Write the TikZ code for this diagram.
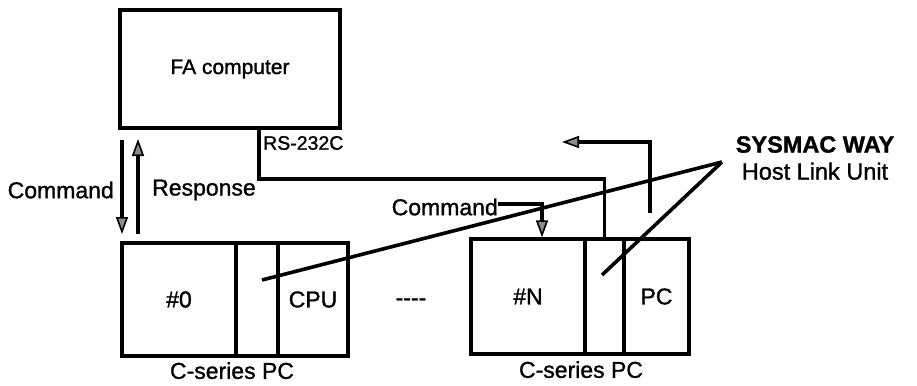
\documentclass[tikz,border=0pt]{standalone}
\usepackage{fontspec}
\setmainfont{Liberation Sans}[FakeBold=1.2]
\usetikzlibrary{arrows.meta,calc}
\begin{document}
\begin{tikzpicture}[x=1pt,y=-1pt,
  box/.style={draw,line width=3.4pt,inner sep=0pt,font=\fontsize{23}{25}\selectfont},
  wire/.style={line width=3.6pt},
  arr/.style={line width=3.2pt,-{Triangle[length=17pt,width=12pt,fill=black!45,line width=1.6pt]}},
  lbl/.style={inner sep=0pt,font=\fontsize{23}{25}\selectfont}]
\useasboundingbox (0,0) rectangle (917,385);
% FA computer
\node[box,minimum width=220pt,minimum height=118pt,font=\fontsize{21}{23}\selectfont] (fa) at (230,69) {FA computer};
% left PC
\node[box,minimum width=114pt,minimum height=113pt] (l0) at (179,299.5) {\#0};
\node[box,minimum width=42pt,minimum height=113pt] (lmid) at (257,299.5) {};
\node[box,minimum width=70pt,minimum height=113pt] (lcpu) at (313,299.5) {CPU};
\node[lbl,anchor=north] (lcap) at (232,362) {C-series PC};
% right PC
\node[box,minimum width=114pt,minimum height=115pt] (r0) at (528,296.5) {\#N};
\node[box,minimum width=39pt,minimum height=115pt] (rmid) at (604.5,296.5) {};
\node[box,minimum width=65pt,minimum height=115pt] (rpc) at (656.5,296.5) {PC};
\node[lbl,anchor=north] (rcap) at (581,361) {C-series PC};
\node[lbl] (dots) at (411,302) {-{}-{}-{}-};
% labels
\node[lbl,anchor=west,font=\fontsize{19.5}{21}\selectfont] (rs) at (263,143) {RS-232C};
\node[lbl,anchor=east] (cmdl) at (114,190) {Command};
\node[lbl,anchor=west] (resp) at (152,190) {Response};
\node[lbl,anchor=east] (cmdr) at (498,207) {Command};
\node[lbl,align=center,font=\fontsize{23.5}{27}\selectfont] (sys) at (815,158) {\textbf{SYSMAC WAY}\\Host Link Unit};
% RS-232C wire
\coordinate (bus) at (259,179);
\draw[wire] (fa.south -| bus) -- (bus) -| (rmid.north);
% command / response on the left
\coordinate (c1) at (122,140);
\coordinate (c2) at (122,234);
\coordinate (p1) at (138,234);
\coordinate (p2) at (138,139);
\draw[arr] (c1) -- (c2);
\draw[arr] (p1) -- (p2);
% command to #N
\coordinate (k1) at (542,204);
\draw[arr] (cmdr.east |- k1) -- (k1) -- (k1 |- r0.north);
% response from right unit
\coordinate (q1) at (650,213);
\coordinate (q2) at (650,142);
\coordinate (q3) at (562,142);
\draw[arr] (q1) -- (q2) -- (q3);
% pointer lines
\coordinate (tip) at (722,162);
\coordinate (lp) at (262,280);
\coordinate (rp) at (602,275);
\draw[wire] (tip) -- (lp);
\draw[wire] (tip) -- (rp);
\end{tikzpicture}
\end{document}
